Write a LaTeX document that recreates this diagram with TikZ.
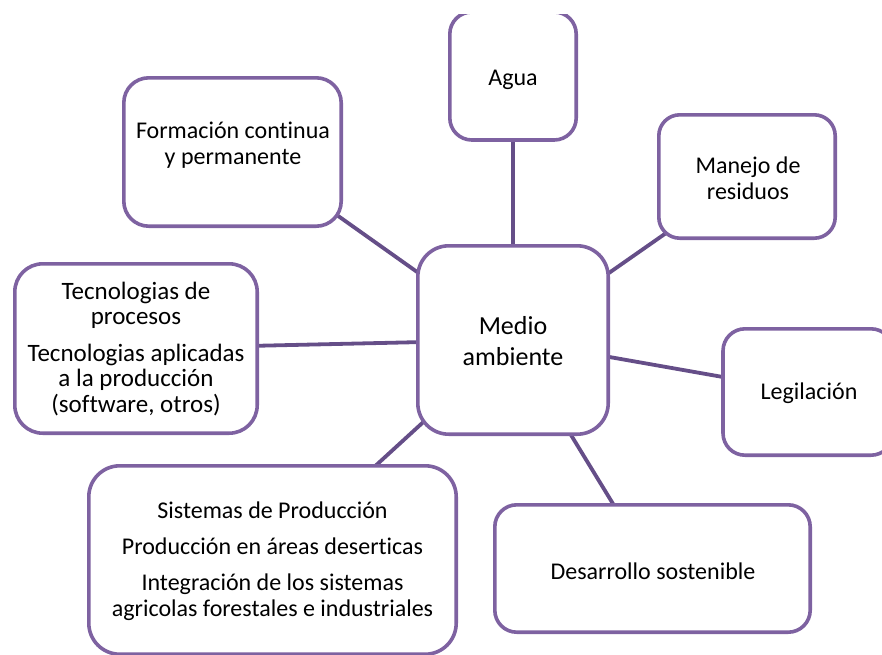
\documentclass[tikz,border=0pt]{standalone}
\usepackage{fontspec}
\setmainfont{Carlito}[Ligatures=CommonOff]
\usetikzlibrary{backgrounds}
\definecolor{boxc}{HTML}{7E62A1}
\definecolor{linec}{HTML}{654E88}
\tikzset{
  box/.style={draw=boxc, line width=3.6pt, fill=white, inner sep=0pt},
  lbl/.style={align=center, font=\fontsize{24}{26}\selectfont, inner sep=0pt, text=black},
  conn/.style={draw=linec, line width=3.8pt},
}
\begin{document}
\begin{tikzpicture}[x=1pt,y=-1pt]
\useasboundingbox (0,0) rectangle (882,654);
\clip (0,0) rectangle (882,654);
\begin{scope}
  \clip (0,14) rectangle (882,654);
  \node[box, minimum width=126.4pt, minimum height=128pt, rounded corners=22pt] (agua) at (513,76) {};
\end{scope}
\node[box, minimum width=217.4pt, minimum height=148.4pt, rounded corners=25pt] (form) at (232.5,152) {};
\node[box, minimum width=176.4pt, minimum height=123.4pt, rounded corners=21pt] (manejo) at (747,176.5) {};
\node[box, minimum width=190.4pt, minimum height=188.4pt, rounded corners=31pt] (hub) at (513,340) {};
\node[box, minimum width=242.4pt, minimum height=169.4pt, rounded corners=28pt] (tec) at (136,348.5) {};
\node[box, minimum width=170pt, minimum height=126.4pt, rounded corners=22pt] (legi) at (808,392) {};
\node[box, minimum width=367.4pt, minimum height=188.4pt, rounded corners=31pt] (sis) at (272.5,560) {};
\node[box, minimum width=315.4pt, minimum height=127.4pt, rounded corners=22pt] (des) at (652.5,568.5) {};

\begin{pgfonlayer}{background}
  \draw[conn] (hub.center) -- (agua.center);
  \draw[conn] (hub.center) -- ([yshift=11pt]form.center);
  \draw[conn] (hub.center) -- (manejo.center);
  \draw[conn] (hub.center) -- (tec.center);
  \draw[conn] (hub.center) -- (legi.center);
  \draw[conn] (hub.center) -- (sis.center);
  \draw[conn] (hub.center) -- (des.center);
\end{pgfonlayer}

\node[lbl] (tagua) at (513,80) {Agua};
\node[lbl] (tform) at (233,145) {Formación continua\\y permanente};
\node[lbl] (tmanejo) at (748,178) {Manejo de\\residuos};
\node[lbl, font=\fontsize{26}{31}\selectfont] (thub) at (513,341) {Medio\\ambiente};
\node[lbl, font=\fontsize{25}{25.5}\selectfont] (ttec) at (136,349) {Tecnologias de\\procesos\\[11pt]Tecnologias aplicadas\\a la producción\\(software, otros)};
\node[lbl] (tlegi) at (809,393) {Legilación};
\node[lbl] (tsis) at (272.5,561.5) {Sistemas de Producción\\[10pt]Producción en áreas deserticas\\[10pt]Integración de los sistemas\\agricolas forestales e industriales};
\node[lbl] (tdes) at (653,571) {Desarrollo sostenible};
\end{tikzpicture}
\end{document}
